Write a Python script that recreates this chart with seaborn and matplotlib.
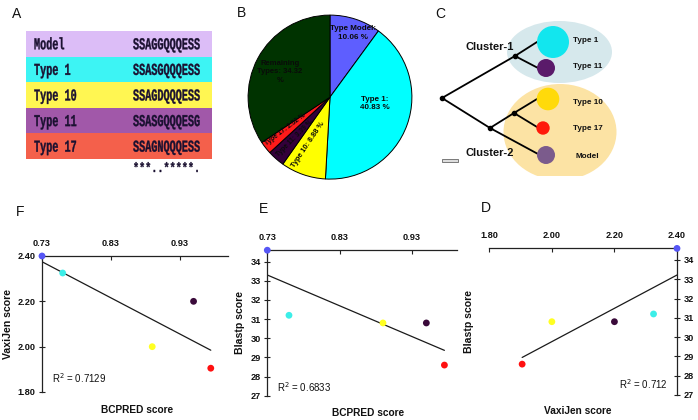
import numpy as np
import pandas as pd
import matplotlib
matplotlib.use("Agg")
import matplotlib.pyplot as plt
import seaborn as sns
from matplotlib.patches import Rectangle, Ellipse, Circle, PathPatch
from matplotlib.textpath import TextPath
from matplotlib.font_manager import FontProperties
from matplotlib.transforms import Affine2D

# --- panel A: epitope alignment ---
seq_names = ["Model", "Type 1", "Type 10", "Type 11", "Type 17"]
sequences = ["SSAGGQQQESS", "SSASGQQQESS", "SSAGDQQQESS", "SSASGQQQESG", "SSAGNQQQESS"]
conservation = "***..*****."
row_colors = ["#DCBDF7", "#3DF4F4", "#FFF652", "#A158A9", "#F4604B"]

# --- panel B: type frequencies ---
pie_names = ["Type Model", "Type 1", "Type 10", "Type 11", "Type 17", "Remaining Types"]
pie_values = [10.06, 40.83, 8.88, 3.39, 2.52, 34.32]
pie_colors = ["#5E5EFF", "#00FFFF", "#FFFF00", "#33003A", "#FF1A1A", "#003300"]

# --- panel C: clusters ---
leaf_names = ["Type 1", "Type 11", "Type 10", "Type 17", "Model"]
leaf_colors = ["#12E6EE", "#5A1A6A", "#FFDA0A", "#FF1A0A", "#7B5B8C"]

# --- panels D-F: scores ---
types = ["Model", "Type 1", "Type 10", "Type 11", "Type 17"]
bcpred = [0.73, 0.76, 0.89, 0.95, 0.975]
vaxijen = [2.40, 2.325, 2.00, 2.20, 1.905]
blastp = [34.6, 31.2, 30.8, 30.8, 28.6]
point_colors = ["#5656F5", "#3CEEE8", "#FFFF22", "#3A0A3A", "#FF1010"]

df = pd.DataFrame({"type": types, "bcpred": bcpred, "vaxijen": vaxijen, "blastp": blastp})

sns.set_theme(style="white")
plt.rcParams["font.family"] = ["Liberation Sans", "DejaVu Sans"]

W, H = 698, 420
fig = plt.figure(figsize=(W / 100, H / 100), dpi=100)


def px_rect(l, t, r, b):
    return [l / W, 1 - b / H, (r - l) / W, (b - t) / H]


ov = fig.add_axes([0, 0, 1, 1])
ov.set_xlim(0, W)
ov.set_ylim(H, 0)
ov.axis("off")
ov.patch.set_alpha(0)

# panel letters
for letter, (lx, ly) in zip("ABCFED", [(17, 14), (241, 13), (440, 14), (20, 212), (263, 209), (486, 208)]):
    ov.text(lx, ly, letter, fontsize=10, ha="center", va="center", color="#111111")

# ---------- A ----------
mono = FontProperties(family="Liberation Mono", weight="bold")
cap_ratio = TextPath((0, 0), "M", size=1, prop=mono).get_extents().height


def mono_text(x, y_base, s, adv=6.1, cap=11, color="#1a1030"):
    tp = TextPath((0, 0), s, size=1, prop=mono)
    tr = Affine2D().scale(adv / 0.6, -cap / cap_ratio).translate(x, y_base) + ov.transData
    ov.add_patch(PathPatch(tp, transform=tr, fc=color, ec=color, lw=0.25))


row_top, row_h = 31, 25.6
for i, (name, seq, col) in enumerate(zip(seq_names, sequences, row_colors)):
    y0 = row_top + i * row_h
    ov.add_patch(Rectangle((26, y0), 186, row_h, fc=col, ec="none"))
    mono_text(34, y0 + row_h / 2 + 5.5, name)
    mono_text(133, y0 + row_h / 2 + 5.5, seq)
mono_text(133, 172, conservation, cap=9)

# ---------- B ----------
pax = fig.add_axes(px_rect(244, 11, 416, 175))
wedges, _ = pax.pie(pie_values, colors=pie_colors, startangle=90, counterclock=False,
                    wedgeprops=dict(edgecolor="black", linewidth=0.7))
pax.set_xlim(-1.05, 1.05)
pax.set_ylim(-0.95, 1.05)
pax.set_aspect("auto")
pax.patch.set_alpha(0)
pie_text = [
    ("Type Model:\n10.06 %", 0.28, 0.78, 0, 5.8),
    ("Type 1:\n40.83 %", 0.55, -0.08, 0, 5.8),
    ("Type 10: 8.88 %", -0.27, -0.585, 56, 5.2),
    ("Type 11: 3.39 %", -0.43, -0.50, 45, 4.8),
    ("Type 17: 2.52 %", -0.54, -0.39, 37, 4.8),
    ("Remaining\nTypes: 34.32\n%", -0.61, 0.31, 0, 5.5),
]
for s, tx, ty, rot, fs in pie_text:
    pax.text(tx, ty, s, fontsize=fs, fontweight="bold", ha="center", va="center",
             rotation=rot, color="#0a0a0a", linespacing=1.3)

# ---------- C ----------
clip = Rectangle((430, 0), 268, 176, transform=ov.transData)
e1 = Ellipse((559.5, 52), 105, 62, fc="#D6E8EC", ec="none")
e2 = Ellipse((560, 132), 113, 96, fc="#FCE3A4", ec="none")
for e in (e1, e2):
    ov.add_patch(e)
    e.set_clip_path(clip)

root, c1, c2, sub = (442, 98), (515, 56), (490, 128), (514, 113)
leaf_pts = [(537, 42), (538, 68), (537, 99), (537, 127), (538, 154)]
branches = [(root, c1), (root, c2), (c2, sub), (c1, leaf_pts[0]), (c1, leaf_pts[1]),
            (sub, leaf_pts[2]), (sub, leaf_pts[3]), (c2, leaf_pts[4])]
for a, b in branches:
    ov.plot([a[0], b[0]], [a[1], b[1]], color="black", lw=1.3, solid_capstyle="round", zorder=3)
for n in (root, c1, c2, sub):
    ov.plot(*n, "o", color="black", ms=3, zorder=4)

circle_geo = [((553, 42), 16), ((546, 68), 9), ((548, 99), 11.3), ((543, 128), 6.7), ((546, 155), 9)]
label_y = [40, 66, 103, 129, 156]
for name, col, (c, r), ly in zip(leaf_names, leaf_colors, circle_geo, label_y):
    ov.add_patch(Circle(c, r, fc=col, ec="none", zorder=5))
    ov.text(573 if name != "Model" else 575, ly, name, fontsize=5.9, fontweight="bold",
            va="center", ha="left", color="#111111")
ov.text(465, 47, "Cluster-1", fontsize=8, fontweight="bold", va="center", color="#111111")
ov.text(465, 153, "Cluster-2", fontsize=8, fontweight="bold", va="center", color="#111111")
ov.add_patch(Rectangle((442, 158.5), 16, 3, fc="#dddddd", ec="#666666", lw=0.6))

# ---------- D-F ----------
palette = dict(zip(types, point_colors))


def score_panel(rect, x, y, xlim, ylim, xticks, xlabels, yticks, ylabels, xlabel, ylabel,
                xlab_xy, ylab_x, r2, r2_xy, r2_ha, yside="left"):
    ax = fig.add_axes(rect)
    ax.patch.set_alpha(0)
    sns.regplot(data=df, x=x, y=y, scatter=False, ci=None, color="#1a1a1a",
                line_kws={"lw": 0.9}, ax=ax)
    sns.scatterplot(data=df, x=x, y=y, hue="type", palette=palette, s=24, edgecolor="none",
                    legend=False, ax=ax, clip_on=False, zorder=4)
    ax.set_xlim(*xlim)
    ax.set_ylim(*ylim)
    ax.set_xticks(xticks, labels=xlabels)
    ax.set_yticks(yticks, labels=ylabels)
    ax.xaxis.tick_top()
    ax.xaxis.set_label_position("bottom")
    for side in ("top", "bottom", "left", "right"):
        ax.spines[side].set_visible(side in ("top", yside))
        ax.spines[side].set_linewidth(0.9)
        ax.spines[side].set_color("#222222")
    if yside == "right":
        ax.yaxis.tick_right()
        ax.yaxis.set_label_position("left")
    ax.tick_params(axis="x", top=True, bottom=False, direction="in", length=3, width=0.8,
                   pad=6, labelsize=6.6, color="#222222")
    ax.tick_params(axis="y", left=(yside == "left"), right=(yside == "right"), direction="inout",
                   length=4, width=0.8, pad=2.5, labelsize=6.6, color="#222222")
    for t in ax.get_xticklabels() + ax.get_yticklabels():
        t.set_fontweight("bold")
        t.set_color("#111111")
    ax.set_xlabel(xlabel, fontsize=7.3, fontweight="bold", color="#111111")
    ax.set_ylabel(ylabel, fontsize=7.6, fontweight="bold", color="#111111")
    ax.xaxis.set_label_coords(*xlab_xy)
    ax.yaxis.set_label_coords(ylab_x, 0.5)
    ax.text(*r2_xy, r2, transform=ax.transAxes, fontsize=7, ha=r2_ha, va="center", color="#111111")
    return ax


score_panel(px_rect(42, 256, 228, 392), "bcpred", "vaxijen", (0.73, 1.0), (1.80, 2.40),
            [0.73, 0.83, 0.93], ["0.73", "0.83", "0.93"],
            [1.80, 2.00, 2.20, 2.40], ["1.80", "2.00", "2.20", "2.40"],
            "BCPRED score", "VaxiJen score", (0.51, -0.095), -0.156,
            "R$^2$ = 0.7129", (0.054, 0.103), "left")

score_panel(px_rect(267.3, 250.2, 456.7, 395.7), "bcpred", "blastp", (0.73, 0.992), (27, 34.6),
            [0.73, 0.83, 0.93], ["0.73", "0.83", "0.93"],
            list(range(27, 35)), [str(v) for v in range(27, 35)],
            "BCPRED score", "Blastp score", (0.53, -0.085), -0.118,
            "R$^2$ = 0.6833", (0.05, 0.062), "left")

score_panel(px_rect(489.3, 248.4, 677, 395), "vaxijen", "blastp", (1.80, 2.40), (27, 34.6),
            [1.80, 2.00, 2.20, 2.40], ["1.80", "2.00", "2.20", "2.40"],
            list(range(27, 35)), [str(v) for v in range(27, 35)],
            "VaxiJen score", "Blastp score", (0.47, -0.072), -0.082,
            "R$^2$ = 0.712", (0.952, 0.076), "right", yside="right")

fig.savefig("out.png", dpi=100)
